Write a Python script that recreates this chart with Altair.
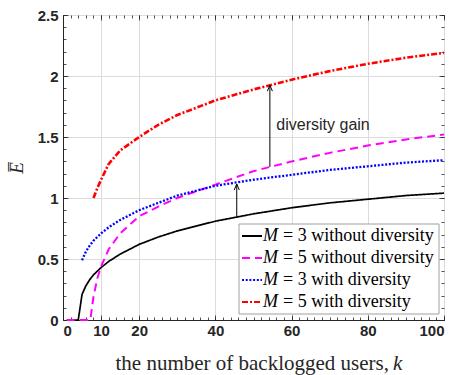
import altair as alt
import pandas as pd

# ---------------- data ----------------
series_names = [
    "M = 3 without diversity",
    "M = 5 without diversity",
    "M = 3 with diversity",
    "M = 5 with diversity",
]
series_colors = ["#000000", "#ff00ff", "#0000ff", "#ff0000"]
series_dashes = [[1, 0], [8, 5], [2, 1.7], [6, 2, 2, 2]]
series_widths = [1.7, 2.6, 2.6, 2.6]

k_m3_wo = [1, 4, 5, 6, 7, 8, 10, 12, 15, 20, 25, 30, 40, 50, 60, 70, 80, 90, 100]
e_m3_wo = [0, 0, 0.21, 0.28, 0.33, 0.37, 0.43, 0.48, 0.54, 0.62, 0.68, 0.73, 0.81, 0.87, 0.92, 0.96, 0.99, 1.02, 1.04]

k_m5_wo = [1, 7, 7.3, 7.6, 8, 9, 10, 12, 15, 20, 25, 30, 40, 50, 60, 70, 80, 90, 100]
e_m5_wo = [0, 0, 0.03, 0.1, 0.19, 0.34, 0.44, 0.58, 0.71, 0.85, 0.93, 1.00, 1.11, 1.22, 1.30, 1.37, 1.43, 1.48, 1.52]

k_m3_w = [5, 6, 7, 8, 10, 12, 15, 20, 25, 30, 40, 50, 60, 70, 80, 90, 100]
e_m3_w = [0.49, 0.56, 0.61, 0.65, 0.71, 0.76, 0.82, 0.90, 0.96, 1.02, 1.10, 1.15, 1.19, 1.23, 1.26, 1.29, 1.31]

k_m5_w = [8, 9, 10, 12, 15, 20, 25, 30, 40, 50, 60, 70, 80, 90, 100]
e_m5_w = [1.0, 1.08, 1.15, 1.28, 1.39, 1.50, 1.60, 1.68, 1.80, 1.89, 1.97, 2.04, 2.10, 2.15, 2.19]

x_major = [0, 10, 20, 40, 60, 80, 100]
x_minor = list(range(0, 101, 2))
y_major = [0, 0.5, 1, 1.5, 2, 2.5]
y_minor = [i / 10 for i in range(26)]

arrow_k = [45.6, 54.3]
arrow_from = [0.845, 1.255]
arrow_to = [1.115, 1.925]

ann_text = ["diversity gain"]
ann_k = [56.0]
ann_e = [1.6]

x_title_roman = "the number of backlogged users,"
x_title_italic = "k"
y_title = "E\u0305"

# ---------------- frames ----------------
rows = []
for name, ks, es in zip(series_names,
                        [k_m3_wo, k_m5_wo, k_m3_w, k_m5_w],
                        [e_m3_wo, e_m5_wo, e_m3_w, e_m5_w]):
    for kv, ev in zip(ks, es):
        rows.append({"k": kv, "E": ev, "series": name})
df = pd.DataFrame(rows)
arrows = pd.DataFrame({"k": arrow_k, "E0": arrow_from, "E1": arrow_to})
ann = pd.DataFrame({"k": ann_k, "E": ann_e, "t": ann_text})

W, H = 381, 305
xs = alt.Scale(domain=[0, 100], nice=False, zero=False)
ys = alt.Scale(domain=[0, 2.5], nice=False, zero=False)
INK = "#262626"
SERIF = "Liberation Serif"
SANS = "Liberation Sans"

color_enc = alt.Color("series:N", scale=alt.Scale(domain=series_names, range=series_colors), legend=None)
dash_enc = alt.StrokeDash("series:N", scale=alt.Scale(domain=series_names, range=series_dashes), legend=None)
width_enc = alt.StrokeWidth("series:N", scale=alt.Scale(domain=series_names, range=series_widths), legend=None)

lines = alt.Chart(df).mark_line().encode(
    x=alt.X("k:Q", scale=xs, axis=alt.Axis(
        values=x_major, format="d", grid=True, gridColor="#dcdcdc", ticks=False,
        domain=True, domainColor=INK, labelFont=SANS, labelFontWeight=700,
        labelFontSize=15, labelColor=INK, labelPadding=3, title=None)),
    y=alt.Y("E:Q", scale=ys, axis=alt.Axis(
        values=y_major, format="~g", grid=True, gridColor="#dcdcdc", ticks=False,
        domain=True, domainColor=INK, labelFont=SANS, labelFontWeight=700,
        labelFontSize=15, labelColor=INK, labelPadding=5,
        title=y_title, titleFont=SERIF, titleFontStyle="italic",
        titleFontSize=19, titleFontWeight="normal", titleColor=INK, titlePadding=11)),
    color=color_enc, strokeDash=dash_enc, strokeWidth=width_enc,
)


def tick_layer(xvals, yvals, size, x_orient, y_orient):
    return alt.Chart(df).mark_point(opacity=0).encode(
        x=alt.X("k:Q", scale=xs, axis=alt.Axis(
            orient=x_orient, offset=-H, values=xvals, tickSize=size, tickColor=INK,
            tickWidth=0.8, labels=False, domain=False, grid=False, title=None)),
        y=alt.Y("E:Q", scale=ys, axis=alt.Axis(
            orient=y_orient, offset=-W, values=yvals, tickSize=size, tickColor=INK,
            tickWidth=0.8, labels=False, domain=False, grid=False, title=None)),
    )


t1 = tick_layer(x_minor, y_minor, 3, "top", "right")
t2 = tick_layer(x_minor, y_minor, 3, "bottom", "left")
t3 = tick_layer(x_major, y_major, 5, "top", "right")
t4 = tick_layer(x_major, y_major, 5, "bottom", "left")

arrow_lines = alt.Chart(arrows).mark_rule(color="black", strokeWidth=1).encode(
    x=alt.X("k:Q", scale=xs, axis=None),
    y=alt.Y("E0:Q", scale=ys, axis=None),
    y2="E1:Q",
)
arrow_heads = alt.Chart(arrows).mark_point(
    shape="M-1,2.4L0,0L1,2.4", size=25, filled=False, color="black", strokeWidth=1, opacity=1
).encode(
    x=alt.X("k:Q", scale=xs, axis=None),
    y=alt.Y("E1:Q", scale=ys, axis=None),
)
ann_layer = alt.Chart(ann).mark_text(
    align="left", baseline="middle", font=SANS, fontSize=16, color=INK
).encode(
    x=alt.X("k:Q", scale=xs, axis=None),
    y=alt.Y("E:Q", scale=ys, axis=None),
    text="t:N",
)

# ---------------- x-axis title (roman + italic k) ----------------
xt = pd.DataFrame({"a": [x_title_roman], "b": [x_title_italic]})
xtitle_a = alt.Chart(xt).mark_text(
    align="right", baseline="alphabetic", font=SERIF, fontSize=21, color=INK
).encode(x=alt.value(326), y=alt.value(355), text="a:N")
xtitle_b = alt.Chart(xt).mark_text(
    align="left", baseline="alphabetic", font=SERIF, fontStyle="italic", fontSize=21, color=INK
).encode(x=alt.value(330), y=alt.value(355), text="b:N")

# ---------------- legend ----------------
leg = pd.DataFrame({"series": series_names})
leg["sym"] = leg["series"].str[0]
leg["rest"] = leg["series"].str[2:]
leg["py"] = 221 + 22 * leg.index

leg_box = alt.Chart(pd.DataFrame({"a": [0]})).mark_rect(
    fill="white", stroke="#a0a0a0", strokeWidth=1
).encode(x=alt.value(176), x2=alt.value(376), y=alt.value(209), y2=alt.value(299))
leg_lines = alt.Chart(leg).mark_rule().encode(
    x=alt.value(179), x2=alt.value(199),
    y=alt.Y("py:Q", scale=None, axis=None),
    color=color_enc, strokeDash=dash_enc,
    strokeWidth=alt.value(2.2),
)
leg_m = alt.Chart(leg).mark_text(
    align="left", baseline="middle", font=SERIF, fontStyle="italic", fontSize=18, color="black"
).encode(x=alt.value(200), y=alt.Y("py:Q", scale=None, axis=None), text="sym:N")
leg_rest = alt.Chart(leg).mark_text(
    align="left", baseline="middle", font=SERIF, fontSize=18, color="black"
).encode(x=alt.value(220), y=alt.Y("py:Q", scale=None, axis=None), text="rest:N")

chart = alt.layer(
    t1, t2, t3, t4, lines, arrow_lines, arrow_heads, ann_layer,
    xtitle_a, xtitle_b, leg_box, leg_lines, leg_m, leg_rest,
).resolve_axis(
    x="independent", y="independent"
).properties(
    width=W, height=H,
    autosize=alt.AutoSizeParams(type="none"),
    padding={"left": 63, "top": 15, "right": 15, "bottom": 55},
).configure_view(stroke=INK, strokeWidth=1).configure(background="white")

chart.save("out.html", embed_options={"renderer": "svg", "actions": False})
